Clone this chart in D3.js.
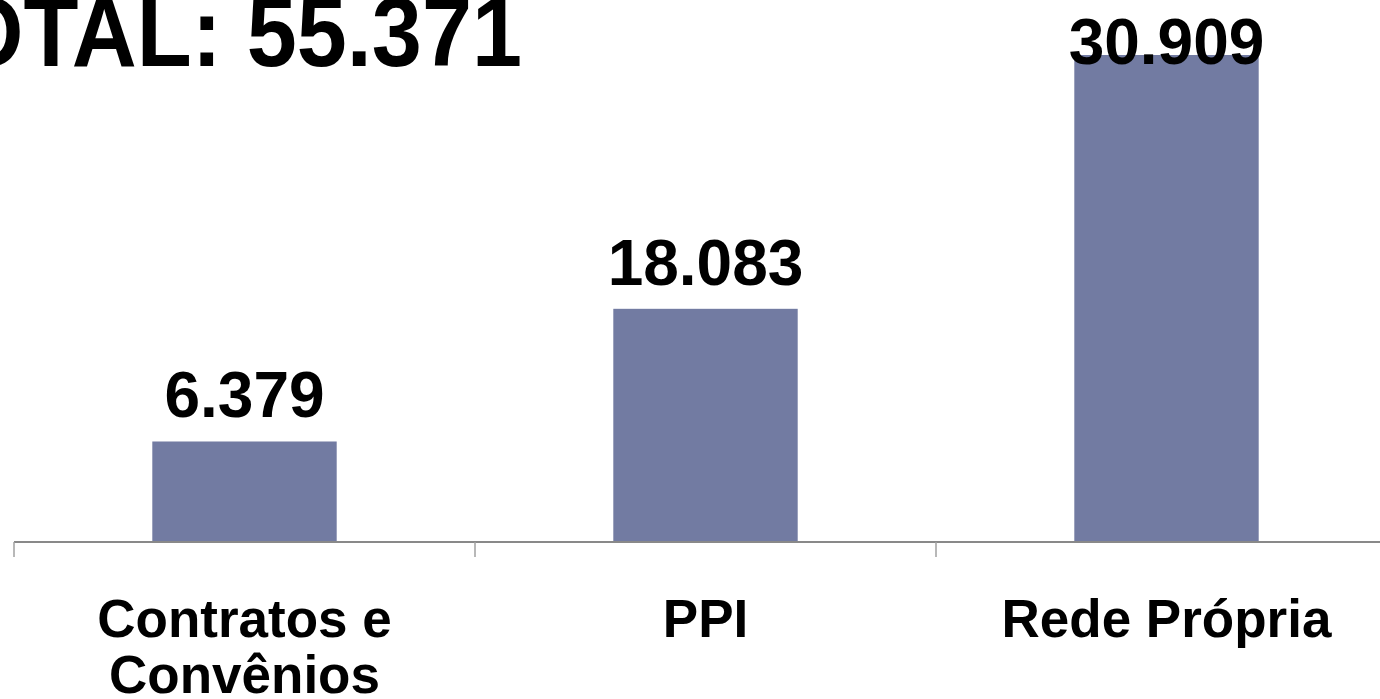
<!DOCTYPE html>
<html>
<head>
<meta charset="utf-8">
<script src="https://cdn.jsdelivr.net/npm/d3@7"></script>
<style>
  body { margin: 0; background: #fff; overflow: hidden; }
  svg { display: block; font-family: "Liberation Sans", Arial, sans-serif; font-weight: bold; }
</style>
</head>
<body>
<svg id="chart" width="1380" height="699"></svg>
<script>
// values
var categories = [["Contratos e", "Convênios"], ["PPI"], ["Rede Própria"]];
var labels = ["6.379", "18.083", "30.909"];
// bar lengths as drawn (the middle bar is drawn shorter than its label says)
var values = [6.379, 14.8, 30.909];
var total_label = "TOTAL: 55.371";

var svg = d3.select("#chart");
var base = 542;

var x = d3.scaleBand()
    .domain(d3.range(values.length))
    .range([14, 1397])
    .paddingInner(0.6)
    .paddingOuter(0.3);

var y = d3.scaleLinear()
    .domain([0, 30.909])
    .range([base, 55]);

svg.append("text")
    .attr("transform", "translate(522,66) scale(1,1.1)")
    .attr("text-anchor", "end")
    .style("font-size", "90px")
    .text(total_label);

svg.selectAll("rect.bar")
    .data(values)
    .enter()
    .append("rect")
        .attr("class", "bar")
        .attr("x", function(d, i) { return x(i); })
        .attr("y", function(d) { return y(d); })
        .attr("width", x.bandwidth())
        .attr("height", function(d) { return base - y(d); })
        .attr("fill", "#727ba2");

// axis line + boundary ticks
svg.append("line")
    .attr("x1", x.range()[0]).attr("x2", 1380)
    .attr("y1", base).attr("y2", base)
    .attr("stroke", "#898989").attr("stroke-width", 2);

svg.selectAll("line.tick")
    .data(d3.range(values.length + 1))
    .enter()
    .append("line")
        .attr("class", "tick")
        .attr("x1", function(i) { return x.range()[0] + i * x.step(); })
        .attr("x2", function(i) { return x.range()[0] + i * x.step(); })
        .attr("y1", base).attr("y2", base + 15)
        .attr("stroke", "#a0a0a0").attr("stroke-width", 1.5);

svg.selectAll("text.value")
    .data(values)
    .enter()
    .append("text")
        .attr("class", "value")
        .attr("x", function(d, i) { return x(i) + x.bandwidth() / 2; })
        .attr("y", function(d) { return Math.max(y(d) - 24, 64); })
        .attr("text-anchor", "middle")
        .style("font-size", "64px")
        .text(function(d, i) { return labels[i]; });

svg.selectAll("text.cat")
    .data(categories)
    .enter()
    .append("text")
        .attr("class", "cat")
        .attr("x", function(d, i) { return x(i) + x.bandwidth() / 2; })
        .attr("y", 637)
        .attr("text-anchor", "middle")
        .style("font-size", "53px")
        .each(function(d) {
            var t = d3.select(this);
            d.forEach(function(line, j) {
                t.append("tspan")
                    .attr("x", t.attr("x"))
                    .attr("dy", j == 0 ? 0 : 56)
                    .text(line);
            });
        });
</script>
</body>
</html>
